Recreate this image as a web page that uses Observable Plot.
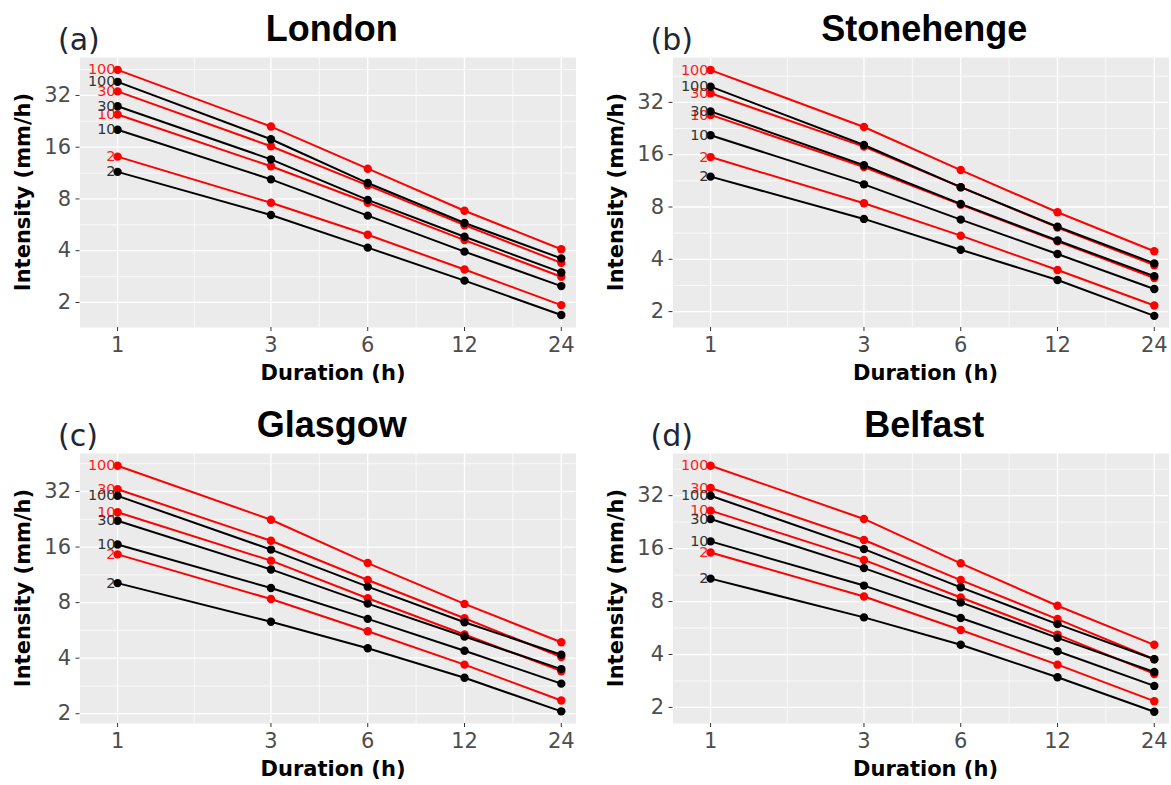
<!DOCTYPE html>
<html>
<head>
<meta charset="utf-8">
<script src="https://cdn.jsdelivr.net/npm/d3@7"></script>
<script src="https://cdn.jsdelivr.net/npm/@observablehq/plot@0.6"></script>
<style>
  html, body { margin: 0; padding: 0; background: #fff; overflow: hidden; }
  #wrap { position: relative; width: 1171px; height: 785px; }
  .panel { position: absolute; }
  #overlay { position: absolute; left: 0; top: 0; pointer-events: none; }
</style>
</head>
<body>
<div id="wrap"></div>
<script>
// ---------------- data ----------------
const durations = [1, 3, 6, 12, 24];
const returnPeriods = [2, 10, 30, 100];
const cities = ["London", "Stonehenge", "Glasgow", "Belfast"];
const panelLetters = ["(a)", "(b)", "(c)", "(d)"];
const xTickValues = [1, 3, 6, 12, 24];
const yTickValues = [2, 4, 8, 16, 32];
const xMinorValues = [1.732, 4.243, 8.485, 16.97];
const yMinorValues = [1.414, 2.828, 5.657, 11.31, 22.63, 45.25];

// rows follow returnPeriods (2, 10, 30, 100); columns follow durations
const londonBlack = [
  [11.5, 6.45, 4.17, 2.68, 1.69],
  [20.2, 10.4, 6.4, 3.95, 2.49],
  [27.7, 13.6, 7.9, 4.82, 2.99],
  [38.4, 17.8, 9.9, 5.8, 3.61]
];
const londonRed = [
  [14.1, 7.6, 4.95, 3.11, 1.93],
  [24.8, 12.4, 7.6, 4.61, 2.82],
  [33.8, 16.2, 9.6, 5.63, 3.40],
  [45.1, 21.1, 12.0, 6.83, 4.08]
];
const stonehengeBlack = [
  [11.96, 6.83, 4.54, 3.04, 1.89],
  [20.7, 10.8, 6.77, 4.29, 2.70],
  [28.4, 13.9, 8.33, 5.13, 3.20],
  [39.4, 18.2, 10.4, 6.16, 3.79]
];
const stonehengeRed = [
  [15.5, 8.4, 5.47, 3.47, 2.17],
  [27.1, 13.6, 8.25, 5.08, 3.12],
  [36.1, 17.8, 10.4, 6.1, 3.70],
  [49.1, 23.1, 13.05, 7.46, 4.45]
];
const glasgowBlack = [
  [10.2, 6.3, 4.53, 3.13, 2.06],
  [16.5, 9.6, 6.53, 4.39, 2.91],
  [22.2, 12.1, 7.9, 5.24, 3.49],
  [30.3, 15.5, 9.76, 6.26, 4.17]
];
const glasgowRed = [
  [14.6, 8.36, 5.6, 3.69, 2.36],
  [24.7, 13.5, 8.45, 5.37, 3.40],
  [32.9, 17.3, 10.6, 6.58, 4.06],
  [44.1, 22.5, 13.1, 7.87, 4.88]
];
const belfastBlack = [
  [10.8, 6.5, 4.54, 2.97, 1.89],
  [17.6, 9.86, 6.45, 4.17, 2.65],
  [23.6, 12.4, 7.91, 4.97, 3.18],
  [32.0, 15.9, 9.64, 5.95, 3.76]
];
const belfastRed = [
  [15.2, 8.55, 5.51, 3.50, 2.17],
  [26.3, 13.8, 8.44, 5.19, 3.10],
  [35.4, 17.9, 10.6, 6.36, 3.76],
  [47.4, 23.6, 13.2, 7.57, 4.54]
];

// ---------------- layout ----------------
const seriesByCity = [
  {black: londonBlack, red: londonRed},
  {black: stonehengeBlack, red: stonehengeRed},
  {black: glasgowBlack, red: glasgowRed},
  {black: belfastBlack, red: belfastRed}
];
const yDomains = [[1.43, 53.2], [1.62, 58], [1.77, 51.4], [1.62, 55.6]];
const colOffset = [0, 592.5];
const rowOffset = [0, 396];
const xDomain = [0.764, 26.67];
const RED = "#FF0000", BLACK = "#000000";

function buildRows(set) {
  const rows = [];
  for (const [colorName, color] of [["red", RED], ["black", BLACK]]) {
    set[colorName].forEach((vals, i) => {
      vals.forEach((v, j) => rows.push({
        d: durations[j], v, rp: returnPeriods[i],
        key: colorName + returnPeriods[i], color,
        labelColor: colorName === "red" ? "#FF1A1A" : "#333333"
      }));
    });
  }
  return rows;
}

const wrap = document.getElementById("wrap");

cities.forEach((city, k) => {
  const col = k % 2, row = Math.floor(k / 2);
  const rows = buildRows(seriesByCity[k]);
  const yd = yDomains[k];
  const w = col === 0 ? 585 : 578.5;
  const chart = Plot.plot({
    width: w,
    height: 340,
    marginLeft: 79.5,
    marginRight: w - 79.5 - 496,
    marginTop: 7,
    marginBottom: 63,
    x: {type: "log", base: 2, domain: xDomain},
    y: {type: "log", base: 2, domain: yd},
    color: {type: "identity"},
    style: {fontFamily: "DejaVu Sans, sans-serif", background: "transparent", overflow: "visible"},
    marks: [
      Plot.frame({fill: "#EBEBEB", stroke: "none"}),
      Plot.ruleX(xMinorValues, {stroke: "white", strokeWidth: 0.7}),
      Plot.ruleY(yMinorValues.filter(v => v > yd[0] && v < yd[1]), {stroke: "white", strokeWidth: 0.7}),
      Plot.ruleX(xTickValues, {stroke: "white", strokeWidth: 1.3}),
      Plot.ruleY(yTickValues, {stroke: "white", strokeWidth: 1.3}),
      Plot.axisX({ticks: xTickValues, tickFormat: d => String(d), tickSize: 4, tickPadding: 6,
        fontSize: 21, fill: "#4D4D4D", stroke: "#333333", label: null}),
      Plot.axisY({ticks: yTickValues, tickFormat: d => String(d), tickSize: 4, tickPadding: 5,
        fontSize: 21, fill: "#4D4D4D", stroke: "#333333", label: null}),
      Plot.line(rows, {x: "d", y: "v", z: "key", stroke: "color", strokeWidth: 2}),
      Plot.dot(rows, {x: "d", y: "v", fill: "color", r: 4.2}),
      Plot.text(rows.filter(r => r.d === 1), {x: "d", y: "v", text: d => String(d.rp),
        fill: "labelColor", textAnchor: "end", dx: -2, fontSize: 14.5})
    ]
  });
  chart.classList.add("panel");
  chart.style.left = colOffset[col] + "px";
  chart.style.top = (rowOffset[row] + 50) + "px";
  wrap.appendChild(chart);
});

// text overlay: panel letters, titles, axis titles
const svg = d3.select(wrap).append("svg")
  .attr("id", "overlay").attr("width", 1171).attr("height", 785);

cities.forEach((city, k) => {
  const col = k % 2, row = Math.floor(k / 2);
  const ox = colOffset[col], oy = rowOffset[row];
  svg.append("text").attr("x", ox + 58).attr("y", oy + 50)
    .attr("font-family", "DejaVu Sans, sans-serif").attr("font-size", 30)
    .attr("fill", "#1e2636").text(panelLetters[k]);
  svg.append("text").attr("x", ox + 331.7).attr("y", oy + 41)
    .attr("text-anchor", "middle")
    .attr("font-family", "Liberation Sans, Arial, sans-serif").attr("font-weight", "bold")
    .attr("font-size", 36).attr("fill", "#000").text(city);
  svg.append("text").attr("transform", `translate(${ox + 30},${oy + 192}) rotate(-90)`)
    .attr("text-anchor", "middle")
    .attr("font-family", "DejaVu Sans, sans-serif").attr("font-weight", "bold")
    .attr("font-size", 21).attr("fill", "#000").text("Intensity (mm/h)");
  svg.append("text").attr("x", ox + 333).attr("y", oy + 380)
    .attr("text-anchor", "middle")
    .attr("font-family", "DejaVu Sans, sans-serif").attr("font-weight", "bold")
    .attr("font-size", 21).attr("fill", "#000").text("Duration (h)");
});
</script>
</body>
</html>
